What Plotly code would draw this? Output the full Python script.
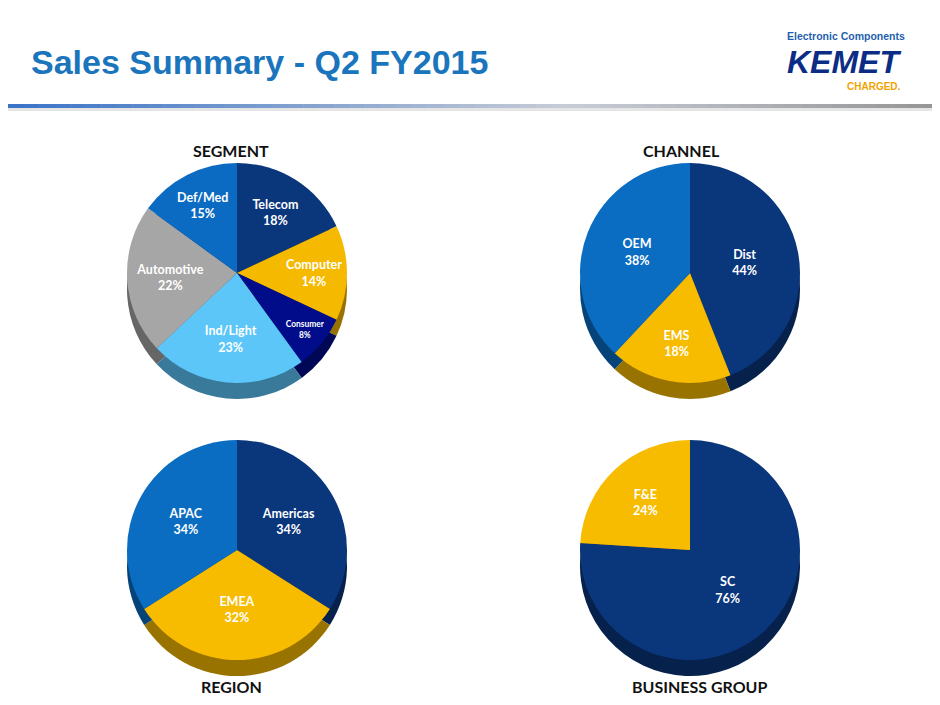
import plotly.graph_objects as go

# ---- data ----
segment_labels = ["Telecom", "Computer", "Consumer", "Ind/Light", "Automotive", "Def/Med"]
segment_values = [18, 14, 8, 23, 22, 15]
channel_labels = ["Dist", "EMS", "OEM"]
channel_values = [44, 18, 38]
region_labels = ["Americas", "EMEA", "APAC"]
region_values = [34, 32, 34]
bg_labels = ["SC", "F&E"]
bg_values = [76, 24]

segment_colors = ["#0A367B", "#F5B900", "#000C8A", "#5CC6F9", "#A6A6A6", "#0B6AC1"]
channel_colors = ["#0A367B", "#F7BB00", "#0B6DC2"]
region_colors = ["#0A367B", "#F7BB00", "#0B6DC2"]
bg_colors = ["#0A367B", "#F7BB00"]

# page puts the figure at an 8px offset; work in reference pixels
OFF = 8
W, H = 932, 697


def px(x):
    return (x - OFF) / W


def py(y):
    return 1 - (y - OFF) / H


def dom(cx, cy, r):
    return dict(x=[px(cx - r), px(cx + r)], y=[py(cy + r), py(cy - r)])


def darken(hexc, f=0.62):
    h = hexc.lstrip("#")
    r, g, b = (int(h[i:i + 2], 16) for i in (0, 2, 4))
    return "rgb(%d,%d,%d)" % (int(r * f), int(g * f), int(b * f))


fig = go.Figure()

R = 110
DEPTH = 16
pies = [
    (segment_labels, segment_values, segment_colors, 237, 273),
    (channel_labels, channel_values, channel_colors, 690, 273),
    (region_labels, region_values, region_colors, 237, 550),
    (bg_labels, bg_values, bg_colors, 690, 550),
]
# side walls (depth) drawn first
for labels, values, colors, cx, cy in pies:
    fig.add_trace(go.Pie(
        labels=labels, values=values, sort=False, direction="clockwise", rotation=0,
        marker=dict(colors=[darken(c) for c in colors], line=dict(width=0)),
        textinfo="none", domain=dom(cx, cy + DEPTH, R), showlegend=False,
        hoverinfo="skip",
    ))
for labels, values, colors, cx, cy in pies:
    fig.add_trace(go.Pie(
        labels=labels, values=values, sort=False, direction="clockwise", rotation=0,
        marker=dict(colors=colors, line=dict(width=0)),
        texttemplate="<b>%{label}<br>%{value}%</b>", textposition="inside",
        insidetextorientation="horizontal",
        textfont=dict(color="white", size=12.5, family="Lato"),
        domain=dom(cx, cy, R), showlegend=False, hoverinfo="label+value",
    ))

annotations = [
    dict(x=30, y=62, text="<b>Sales Summary - Q2 FY2015</b>", xanchor="left",
         font=dict(size=34, color="#1B75BC", family="Liberation Sans")),
    dict(x=846, y=36, text="<b>Electronic Components</b>", xanchor="center",
         font=dict(size=10.5, color="#1F5FAE", family="Liberation Sans")),
    dict(x=844, y=62, text="<b><i>KEMET</i></b>", xanchor="center",
         font=dict(size=32, color="#0C2D85", family="Liberation Sans")),
    dict(x=874, y=87, text="<b>CHARGED.</b>", xanchor="center",
         font=dict(size=10, color="#F0A400", family="Liberation Sans")),
    dict(x=231, y=150, text="<b>SEGMENT</b>", xanchor="center",
         font=dict(size=16, color="#111111", family="Lato")),
    dict(x=681, y=150, text="<b>CHANNEL</b>", xanchor="center",
         font=dict(size=16, color="#111111", family="Lato")),
    dict(x=231, y=686, text="<b>REGION</b>", xanchor="center",
         font=dict(size=16, color="#111111", family="Lato")),
    dict(x=699, y=686, text="<b>BUSINESS GROUP</b>", xanchor="center",
         font=dict(size=16, color="#111111", family="Lato")),
]
for a in annotations:
    a.update(xref="paper", yref="paper", showarrow=False, yanchor="middle", borderpad=0)
    a["x"] = px(a["x"])
    a["y"] = py(a["y"])

# gradient rule under title
shapes = []
n = 60
c0 = (59, 116, 200)
c1 = (200, 205, 215)
c2 = (150, 150, 150)
for i in range(n):
    t = i / (n - 1)
    if t < 0.6:
        u = t / 0.6
        c = tuple(int(c0[k] + (c1[k] - c0[k]) * u) for k in range(3))
    else:
        u = (t - 0.6) / 0.4
        c = tuple(int(c1[k] + (c2[k] - c1[k]) * u) for k in range(3))
    x0 = OFF + i * (940 - OFF) / n
    x1 = OFF + (i + 1) * (940 - OFF) / n + 0.5
    shapes.append(dict(type="rect", xref="paper", yref="paper",
                       x0=px(x0), x1=px(x1), y0=py(108), y1=py(104),
                       fillcolor="rgb(%d,%d,%d)" % c, line=dict(width=0)))
shapes.append(dict(type="rect", xref="paper", yref="paper", x0=0, x1=1,
                   y0=py(111), y1=py(108), fillcolor="rgba(180,180,180,0.35)",
                   line=dict(width=0)))

fig.update_layout(
    width=W, height=H, margin=dict(l=0, r=0, t=0, b=0),
    paper_bgcolor="white", plot_bgcolor="white",
    annotations=annotations, shapes=shapes,
)
fig.write_html("out.html")
